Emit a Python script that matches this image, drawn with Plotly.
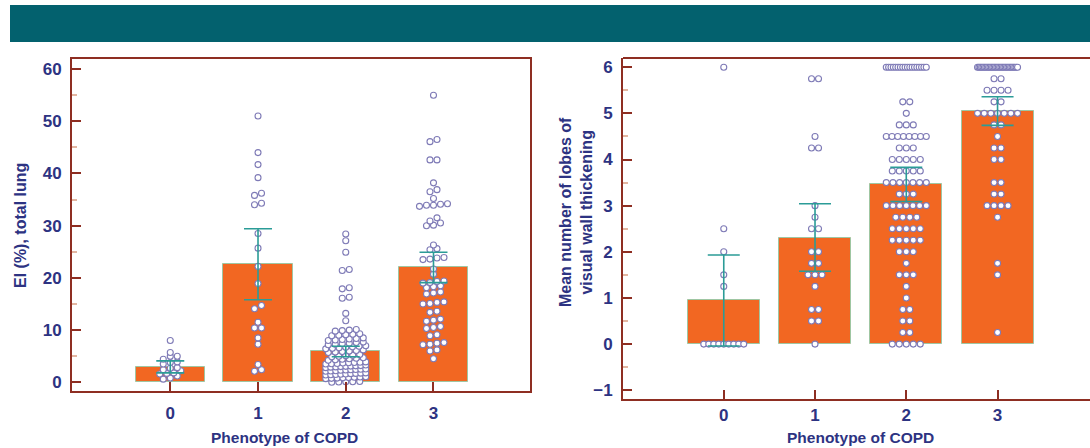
import plotly.graph_objects as go

# ---------------- data ----------------
categories = [0, 1, 2, 3]
tick_labels = ["0", "1", "2", "3"]

# Left panel: EI (%), total lung (individual patients per phenotype)
ei_g0 = [8.0, 5.7, 5.0, 5.0, 4.4, 3.9, 3.8, 3.5, 2.8, 2.7, 2.4, 2.2, 1.8, 1.7, 1.6, 1.2, 0.8, 0.6]
ei_g1 = [51.0, 44.0, 41.7, 39.2, 36.2, 35.8, 34.3, 34.0, 28.5, 25.7, 22.2, 18.9, 14.7, 14.1,
         11.5, 10.4, 10.4, 8.5, 7.3, 3.4, 2.4, 2.1]
ei_g2 = [28.4, 27.1, 24.9, 21.6, 21.4, 18.1, 17.9, 16.3, 16.1, 13.2, 11.8,
         10.1, 10.0, 9.9, 9.8,
         9.3, 9.2, 9.1, 9.0, 8.9,
         8.5, 8.4, 8.3, 8.2, 8.1, 8.0,
         7.7, 7.6, 7.5, 7.4, 7.3, 7.2,
         7.0, 6.9, 6.8, 6.7, 6.6, 6.5, 6.4,
         6.2, 6.1, 6.0, 5.9, 5.8, 5.7,
         5.3, 5.2, 5.1, 5.0, 4.9,
         4.7, 4.6, 4.5, 4.4, 4.3, 4.2,
         3.9, 3.85, 3.8, 3.75, 3.7, 3.6, 3.55, 3.5,
         3.3, 3.2, 3.15, 3.1, 3.05, 3.0, 2.95, 2.9, 2.8,
         2.55, 2.5, 2.45, 2.4, 2.35, 2.3, 2.2, 2.15, 2.1,
         1.8, 1.75, 1.7, 1.65, 1.6, 1.55, 1.5, 1.45, 1.4,
         1.05, 1.0, 0.95, 0.9, 0.85, 0.8, 0.75, 0.7,
         0.15, 0.1, 0.1, 0.05, 0.0]
ei_g3 = [55.0, 46.5, 46.1, 42.6, 42.6, 38.2, 36.9, 36.5, 35.2,
         34.2, 34.1, 33.9, 33.9, 33.7, 31.5, 30.9, 30.5, 30.1, 30.0,
         26.3, 25.6, 25.4, 23.9, 23.8, 23.6, 23.5, 21.7, 20.7,
         19.4, 19.3, 19.1, 19.0, 18.5, 18.3, 18.1, 17.3, 17.1, 16.9,
         15.4, 15.3, 15.1, 15.0, 13.6, 13.4, 12.1, 11.9, 11.7,
         10.7, 10.5, 10.3, 9.1, 8.9, 7.6, 7.5, 7.3, 7.2, 6.2, 6.0, 4.5]
ei_bar = [3.0, 22.6, 6.0, 22.1]
ei_err_lo = [1.8, 15.8, 4.9, 19.1]
ei_err_hi = [4.1, 29.4, 6.9, 24.9]

# Right panel: mean number of lobes of visual wall thickening
lobes_g0 = [6.0, 2.5, 2.0, 1.5, 1.25, 0, 0, 0, 0, 0, 0, 0, 0, 0]
lobes_g1 = [5.75, 5.75, 4.5, 4.25, 4.25, 3.0, 2.75, 2.5, 2.5, 2.0, 2.0, 1.75, 1.75,
            1.5, 1.5, 1.5, 1.25, 0.75, 0.75, 0.5, 0.5, 0]
lobes_g2 = [6.0, 6.0, 6.0, 6.0, 6.0, 6.0, 6.0, 6.0, 6.0, 6.0, 6.0, 6.0, 6.0, 6.0, 6.0, 6.0, 6.0, 6.0,
            5.25, 5.25, 5.0, 4.75, 4.75, 4.75,
            4.5, 4.5, 4.5, 4.5, 4.5, 4.5, 4.5, 4.5, 4.25, 4.25, 4.25,
            4.0, 4.0, 4.0, 4.0, 4.0, 3.75, 3.75, 3.75, 3.75, 3.75,
            3.5, 3.5, 3.5, 3.5, 3.5, 3.5, 3.5, 3.25, 3.25, 3.25,
            3.0, 3.0, 3.0, 3.0, 3.0, 3.0, 3.0, 2.75, 2.75, 2.75, 2.75,
            2.5, 2.5, 2.5, 2.5, 2.5, 2.25, 2.25, 2.25, 2.25, 2.25,
            2.0, 2.0, 2.0, 1.75, 1.5, 1.5, 1.5, 1.25, 1.0, 0.75, 0.75, 0.5, 0.5, 0.25, 0.25,
            0, 0, 0, 0, 0]
lobes_g3 = [6.0, 6.0, 6.0, 6.0, 6.0, 6.0, 6.0, 6.0, 6.0, 6.0, 6.0, 6.0, 6.0, 6.0, 6.0,
            6.0, 6.0, 6.0, 6.0, 6.0, 6.0, 6.0, 6.0, 6.0, 6.0, 6.0, 6.0, 6.0, 6.0, 6.0,
            5.75, 5.75, 5.5, 5.5, 5.5, 5.5, 5.25, 5.25,
            5.0, 5.0, 5.0, 5.0, 5.0, 5.0, 5.0, 4.75, 4.75, 4.5, 4.25, 4.25, 4.0, 4.0,
            3.5, 3.5, 3.25, 3.25, 3.0, 3.0, 3.0, 3.0, 2.75, 1.75, 1.5, 0.25]
lobes_bar = [0.95, 2.30, 3.46, 5.05]
lobes_err_lo = [-0.04, 1.58, 3.09, 4.74]
lobes_err_hi = [1.93, 3.04, 3.83, 5.36]

# ---------------- style ----------------
W, H = 1090, 448
FONT = "Liberation Sans, Arial, sans-serif"
NAVY = "#2D3382"
AXRED = "#8E2E22"
MINOR = "#E2B6A2"
ORANGE = "#F26722"
BAREDGE = "#9FC6A2"
TEAL = "#2B9C97"
DOTEDGE = "#7E7AB6"

# panel geometry (pixels)
L_x0, L_x1, L_y0, L_y1 = 72, 530, 59, 391
R_x0, R_x1, R_y0, R_y1 = 623, 1090, 58, 399
L_xrange = [-1.12, 4.10]
L_yrange = [-1.67, 61.93]
R_xrange = [-1.104, 4.013]
R_yrange = [-1.19, 6.20]


def swarm(values, row_h, px_per_unit, dot_px, max_px):
    """Place points in horizontal rows (Prism-like scatter), squeezing wide rows."""
    vals = sorted(values)
    rows = []
    for v in vals:
        if rows and v - rows[-1][0] <= row_h + 1e-9:
            rows[-1].append(v)
        else:
            rows.append([v])
    xs, ys = [], []
    for row in rows:
        n = len(row)
        step = dot_px if n < 2 else min(dot_px, max_px / (n - 1))
        for i, v in enumerate(row):
            xs.append((i - (n - 1) / 2) * step / px_per_unit)
            ys.append(v)
    return xs, ys


fig = go.Figure()

L_ppu = (L_x1 - L_x0) / (L_xrange[1] - L_xrange[0])
R_ppu = (R_x1 - R_x0) / (R_xrange[1] - R_xrange[0])

panels = [
    ("x", "y", [ei_g0, ei_g1, ei_g2, ei_g3], ei_bar, ei_err_lo, ei_err_hi, 0.62, L_ppu, 40, 14),
    ("x2", "y2", [lobes_g0, lobes_g1, lobes_g2, lobes_g3], lobes_bar, lobes_err_lo, lobes_err_hi,
     0.1, R_ppu, 40, 16),
]

for xa, ya, groups, bars, lo, hi, rowh, ppu, maxw, capw in panels:
    fig.add_trace(go.Bar(
        x=categories, y=bars, width=0.79, xaxis=xa, yaxis=ya,
        marker=dict(color=ORANGE, line=dict(color=BAREDGE, width=1)),
        hoverinfo="skip"))
    for c, g in zip(categories, groups):
        dx, yy = swarm(g, rowh, ppu, 7.0, maxw)
        fig.add_trace(go.Scatter(
            x=[c + d for d in dx], y=yy, mode="markers", xaxis=xa, yaxis=ya,
            marker=dict(size=6, color="white", line=dict(color=DOTEDGE, width=1.1)),
            hoverinfo="skip"))
    fig.add_trace(go.Scatter(
        x=categories, y=bars, mode="markers", xaxis=xa, yaxis=ya,
        marker=dict(size=1, opacity=0),
        error_y=dict(type="data", symmetric=False,
                     array=[h - b for h, b in zip(hi, bars)],
                     arrayminus=[b - l for b, l in zip(bars, lo)],
                     color=TEAL, thickness=1.6, width=capw),
        hoverinfo="skip"))


def xaxis_cfg(dom, rng, anchor, mirror, standoff):
    return dict(domain=dom, range=rng, anchor=anchor, tickmode="array",
                tickvals=categories, ticktext=tick_labels, ticks="inside", ticklen=9,
                tickwidth=2, tickcolor=AXRED, showline=True, linecolor=AXRED, linewidth=2,
                mirror=mirror, showgrid=False, zeroline=False, ticklabelstandoff=standoff,
                tickfont=dict(family=FONT, size=17, color=NAVY, weight="bold"),
                fixedrange=True)


def yaxis_cfg(dom, rng, anchor, dtick, mdtick, mirror):
    return dict(domain=dom, range=rng, anchor=anchor, tick0=0, dtick=dtick,
                ticks="inside", ticklen=9, tickwidth=2, tickcolor=AXRED,
                minor=dict(dtick=mdtick, tick0=0, ticks="inside", ticklen=5,
                           tickwidth=2, tickcolor=MINOR, showgrid=False),
                showline=True, linecolor=AXRED, linewidth=2, mirror=mirror,
                showgrid=False, zeroline=False, ticklabelstandoff=5,
                tickfont=dict(family=FONT, size=17, color=NAVY, weight="bold"),
                fixedrange=True)


fig.update_layout(
    width=W, height=H, margin=dict(l=0, r=0, t=0, b=0),
    paper_bgcolor="white", plot_bgcolor="white", showlegend=False, bargap=0,
    xaxis=xaxis_cfg([L_x0 / W, L_x1 / W], L_xrange, "y", True, 6),
    yaxis=yaxis_cfg([1 - L_y1 / H, 1 - L_y0 / H], L_yrange, "x", 10, 5, True),
    xaxis2=xaxis_cfg([R_x0 / W, 1.0], R_xrange, "y2", False, 0),
    yaxis2=yaxis_cfg([1 - R_y1 / H, 1 - R_y0 / H], R_yrange, "x2", 1, 0.5, False),
)

# header band
fig.add_shape(type="rect", xref="paper", yref="paper", x0=10 / W, x1=1.0,
              y0=1 - 42 / H, y1=1 - 5 / H, fillcolor="#03616E", line=dict(width=0),
              layer="above")
# top frame line of right panel
fig.add_shape(type="line", xref="x2 domain", yref="y2 domain", x0=0, x1=1, y0=1, y1=1,
              line=dict(color=AXRED, width=2))

title_font = dict(family=FONT, size=15.5, color=NAVY, weight="bold")
fig.add_annotation(text="Phenotype of COPD", x=284 / W, y=1 - 437 / H, xref="paper",
                   yref="paper", showarrow=False, font=title_font,
                   xanchor="center", yanchor="middle")
fig.add_annotation(text="Phenotype of COPD", x=860 / W, y=1 - 437 / H, xref="paper",
                   yref="paper", showarrow=False, font=title_font,
                   xanchor="center", yanchor="middle")
fig.add_annotation(text="EI (%), total lung", x=20 / W, y=1 - 226 / H, xref="paper",
                   yref="paper", showarrow=False, font=dict(title_font, size=16),
                   textangle=-90, xanchor="center", yanchor="middle")
fig.add_annotation(text="Mean number of lobes of<br>visual wall thickening", x=576 / W,
                   y=1 - 212 / H, xref="paper", yref="paper", showarrow=False,
                   font=dict(title_font, size=16), textangle=-90,
                   xanchor="center", yanchor="middle")

fig.write_html("out.html", config={"displayModeBar": False},
               post_script="document.body.style.margin='0';document.body.style.padding='0';")
